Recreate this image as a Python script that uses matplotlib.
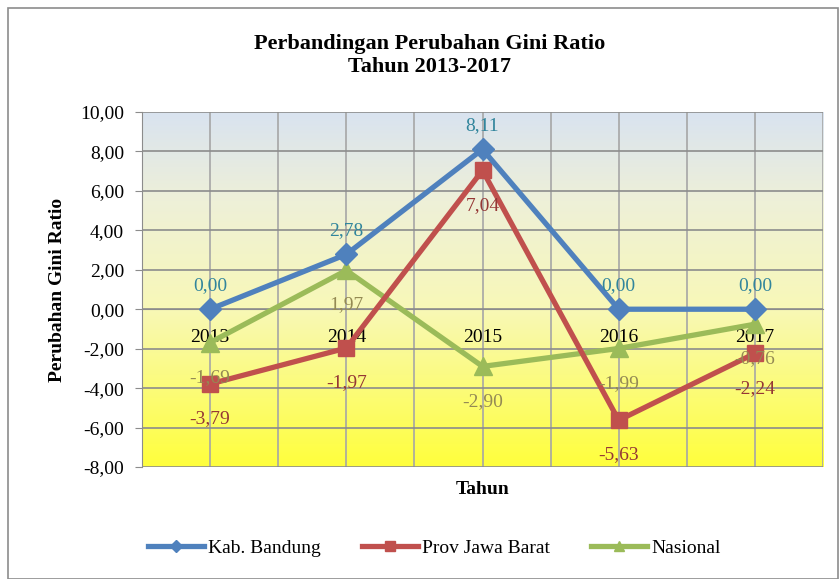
import numpy as np
import matplotlib.pyplot as plt
from matplotlib.colors import LinearSegmentedColormap
from matplotlib.patches import Rectangle

years = ['2013', '2014', '2015', '2016', '2017']
kab_bandung = [0.00, 2.78, 8.11, 0.00, 0.00]
prov_jabar = [-3.79, -1.97, 7.04, -5.63, -2.24]
nasional = [-1.69, 1.97, -2.90, -1.99, -0.76]


def fmt(v):
    return f'{v:.2f}'.replace('.', ',')


plt.rcParams['font.family'] = ['Liberation Serif', 'DejaVu Serif']

fig = plt.figure(figsize=(8.4, 5.79), dpi=100)
ax = fig.add_axes([142/840, 1 - 467/579, (823 - 142)/840, (467 - 112)/579])

# outer chart border
fig.patches.append(Rectangle((8/840, 0), 830/840, 1 - 8/579, transform=fig.transFigure,
                             fill=False, edgecolor='#8c8c8c', linewidth=1.2))

x = np.arange(len(years))

# gradient background
cmap = LinearSegmentedColormap.from_list('bg', [(0, '#ffff3c'), (0.45, '#f8f8b8'),
                                                (0.75, '#eef0d8'), (1, '#d9e3f0')])
grad = np.linspace(0, 1, 256).reshape(-1, 1)
ax.imshow(grad, extent=(-0.5, 4.5, -8, 10), origin='lower', aspect='auto',
          cmap=cmap, zorder=0)

ax.set_xlim(-0.5, 4.5)
ax.set_ylim(-8, 10)
ax.set_yticks(np.arange(-8, 11, 2))
ax.set_yticklabels([fmt(v) for v in np.arange(-8, 11, 2)], fontsize=14)
ax.tick_params(axis='y', length=5, color='#8c8c8c', pad=8)

# gridlines
for gx in np.arange(-0.5, 4.51, 0.5):
    ax.axvline(gx, color='#a6a6a6', linewidth=1.2, zorder=1)
for gy in np.arange(-8, 11, 2):
    ax.axhline(gy, color='#8c8c8c', linewidth=1.2, zorder=1)

for s in ['top', 'right']:
    ax.spines[s].set_visible(False)
ax.spines['left'].set_color('#8c8c8c')
ax.spines['bottom'].set_position(('data', 0))
ax.spines['bottom'].set_color('#8c8c8c')
ax.set_xticks(x)
ax.set_xticklabels(years, fontsize=14)
ax.tick_params(axis='x', length=0, pad=14)

ax.plot(x, kab_bandung, color='#4f81bd', linewidth=3.8, marker='D', markersize=11,
        label='Kab. Bandung', zorder=5)
ax.plot(x, prov_jabar, color='#c0504d', linewidth=3.8, marker='s', markersize=12,
        label='Prov Jawa Barat', zorder=4)
ax.plot(x, nasional, color='#9bbb59', linewidth=3.8, marker='^', markersize=13,
        label='Nasional', zorder=3)

for xi, v in zip(x, kab_bandung):
    ax.annotate(fmt(v), (xi, v), xytext=(0, 17), textcoords='offset points',
                ha='center', va='center', fontsize=14, color='#31859c', zorder=6)
for xi, v in zip(x, prov_jabar):
    ax.annotate(fmt(v), (xi, v), xytext=(0, -25), textcoords='offset points',
                ha='center', va='center', fontsize=14, color='#953735', zorder=6)
for xi, v in zip(x, nasional):
    ax.annotate(fmt(v), (xi, v), xytext=(0, -25), textcoords='offset points',
                ha='center', va='center', fontsize=14, color='#948a54', zorder=6)

ax.set_ylabel('Perubahan Gini Ratio', fontsize=14, fontweight='bold', labelpad=10)
ax.set_xlabel('Tahun', fontsize=14, fontweight='bold')
ax.xaxis.set_label_coords(0.5, -0.04)

fig.text(430/840, 1 - 56/579, 'Perbandingan Perubahan Gini Ratio\nTahun 2013-2017',
         ha='center', va='center', fontsize=16, fontweight='bold', linespacing=1.2)

fig.legend(loc='center', bbox_to_anchor=(434/840, 1 - 548/579), ncol=3, frameon=False,
           fontsize=14, handlelength=2.9, columnspacing=2.1, handletextpad=0.2,
           markerscale=0.6)

fig.savefig('out.png', dpi=100)
